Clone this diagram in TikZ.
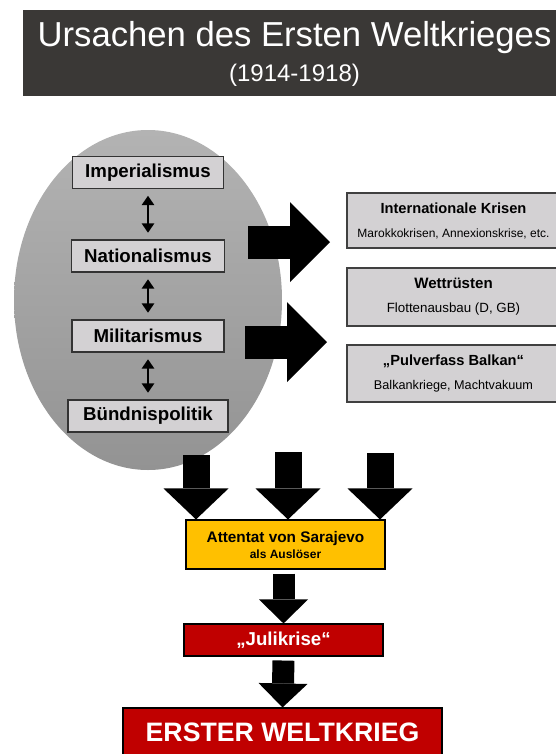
\documentclass[tikz,border=0pt]{standalone}
\usepackage{fontspec}
\setmainfont{Liberation Sans}
\usetikzlibrary{arrows.meta}

\definecolor{titlegray}{HTML}{3A3836}
\definecolor{boxgray}{HTML}{D3D1D3}
\definecolor{ovaltop}{HTML}{B3B3B3}
\definecolor{ovalbottom}{HTML}{939393}
\definecolor{triggerorange}{HTML}{FFC000}
\definecolor{warred}{HTML}{C00000}

\begin{document}
\begin{tikzpicture}[x=0.75pt, y=-0.75pt,
    causebox/.style={draw=black!80, fill=boxgray, line width=0.8pt, inner sep=0pt,
        minimum height=24pt, font=\fontsize{14}{16}\selectfont\bfseries},
    crisisbox/.style={draw=black!75, fill=boxgray, line width=0.8pt, inner sep=0pt,
        minimum width=159.75pt, align=center, font=\fontsize{9.5}{11}\selectfont},
    redbox/.style={draw=black, fill=warred, line width=0.8pt, inner sep=0pt,
        text=white, font=\bfseries},
    linkarrow/.style={line width=2pt, {Triangle[length=7pt, width=9pt]}-{Triangle[length=7pt, width=9pt]},
        shorten <=5pt, shorten >=5pt},
    fatright/.style={line width=24.75pt, -{Triangle[length=30pt, width=60pt, line width=0pt]}},
    fatdown/.style={line width=20.25pt, -{Triangle[length=23.25pt, width=48.75pt, line width=0pt]}},
    smalldown/.style={line width=16.5pt, -{Triangle[length=18pt, width=36.75pt, line width=0pt]}}]

    \useasboundingbox (0,0) rectangle (556,754);
    \clip (0,0) rectangle (556,754);

    % Title bar
    \node[fill=titlegray, minimum width=407.25pt, minimum height=64.5pt] (title) at (294.5,53) {};
    \node[text=white, font=\fontsize{26}{30}\selectfont] (titletext) at (294.5,38) {Ursachen des Ersten Weltkrieges};
    \node[text=white, font=\fontsize{18}{21}\selectfont] (years) at (294.5,75) {(1914-1918)};

    % Long-term causes (oval)
    \shade[top color=ovaltop, bottom color=ovalbottom] (148,300) ellipse [x radius=134, y radius=170];
    \node[causebox, minimum width=113.25pt] (imp) at (148,172.5) {Imperialismus};
    \node[causebox, minimum width=114.75pt] (nat) at (148,256) {Nationalismus};
    \node[causebox, minimum width=114pt] (mil) at (148,336) {Militarismus};
    \node[causebox, minimum width=120pt] (bund) at (148,416) {Bündnispolitik};
    \draw[linkarrow] (imp) -- (nat);
    \draw[linkarrow] (nat) -- (mil);
    \draw[linkarrow] (mil) -- (bund);

    % Crises
    \node[crisisbox, minimum height=41.25pt] (krisen) at (453.5,220.5)
        {{\fontsize{11}{13}\selectfont\bfseries Internationale Krisen}\\[7pt]{\fontsize{9}{11}\selectfont Marokkokrisen, Annexionskrise, etc.}};
    \node[crisisbox, minimum height=43.5pt] (ruesten) at (453.5,297)
        {{\fontsize{11.3}{13}\selectfont\bfseries Wettrüsten}\\[7pt]{\fontsize{10}{11}\selectfont Flottenausbau (D, GB)}};
    \node[crisisbox, minimum height=42.75pt] (balkan) at (453.5,373.5)
        {{\fontsize{11}{13}\selectfont\bfseries „Pulverfass Balkan“}\\[7pt]Balkankriege, Machtvakuum};

    \coordinate (r1) at (248,242);
    \coordinate (r1tip) at (330,242);
    \coordinate (r2) at (245,342);
    \coordinate (r2tip) at (327,342);
    \draw[fatright] (r1) -- (r1tip);
    \draw[fatright] (r2) -- (r2tip);

    % Trigger and outbreak
    \node[draw=black, fill=triggerorange, line width=0.8pt, minimum width=149.25pt, minimum height=36.75pt,
        inner sep=0pt, align=center, font=\fontsize{11.5}{13}\selectfont\bfseries] (att) at (285.5,544.5)
        {Attentat von Sarajevo\\[-1pt]{\fontsize{9}{11}\selectfont als Auslöser}};
    \node[redbox, minimum width=149.25pt, minimum height=24pt, font=\fontsize{14}{16}\selectfont\bfseries] (juli) at (283.5,640) {„Julikrise“};
    \node[redbox, minimum width=239.25pt, minimum height=36pt, font=\fontsize{20}{24}\selectfont\bfseries] (krieg) at (282.5,732) {ERSTER WELTKRIEG};

    \coordinate (d1) at (196,455);
    \coordinate (d2) at (288,452);
    \coordinate (d3) at (380,453);
    \draw[fatdown] (d1) -- (d1 |- att.north);
    \draw[fatdown] (d2) -- (d2 |- att.north);
    \draw[fatdown] (d3) -- (d3 |- att.north);
    \draw[smalldown] ([yshift=-3pt]att.south -| juli.north) -- (juli.north);
    \draw[smalldown] ([yshift=-3pt]juli.south) -- (krieg.north);
\end{tikzpicture}
\end{document}
